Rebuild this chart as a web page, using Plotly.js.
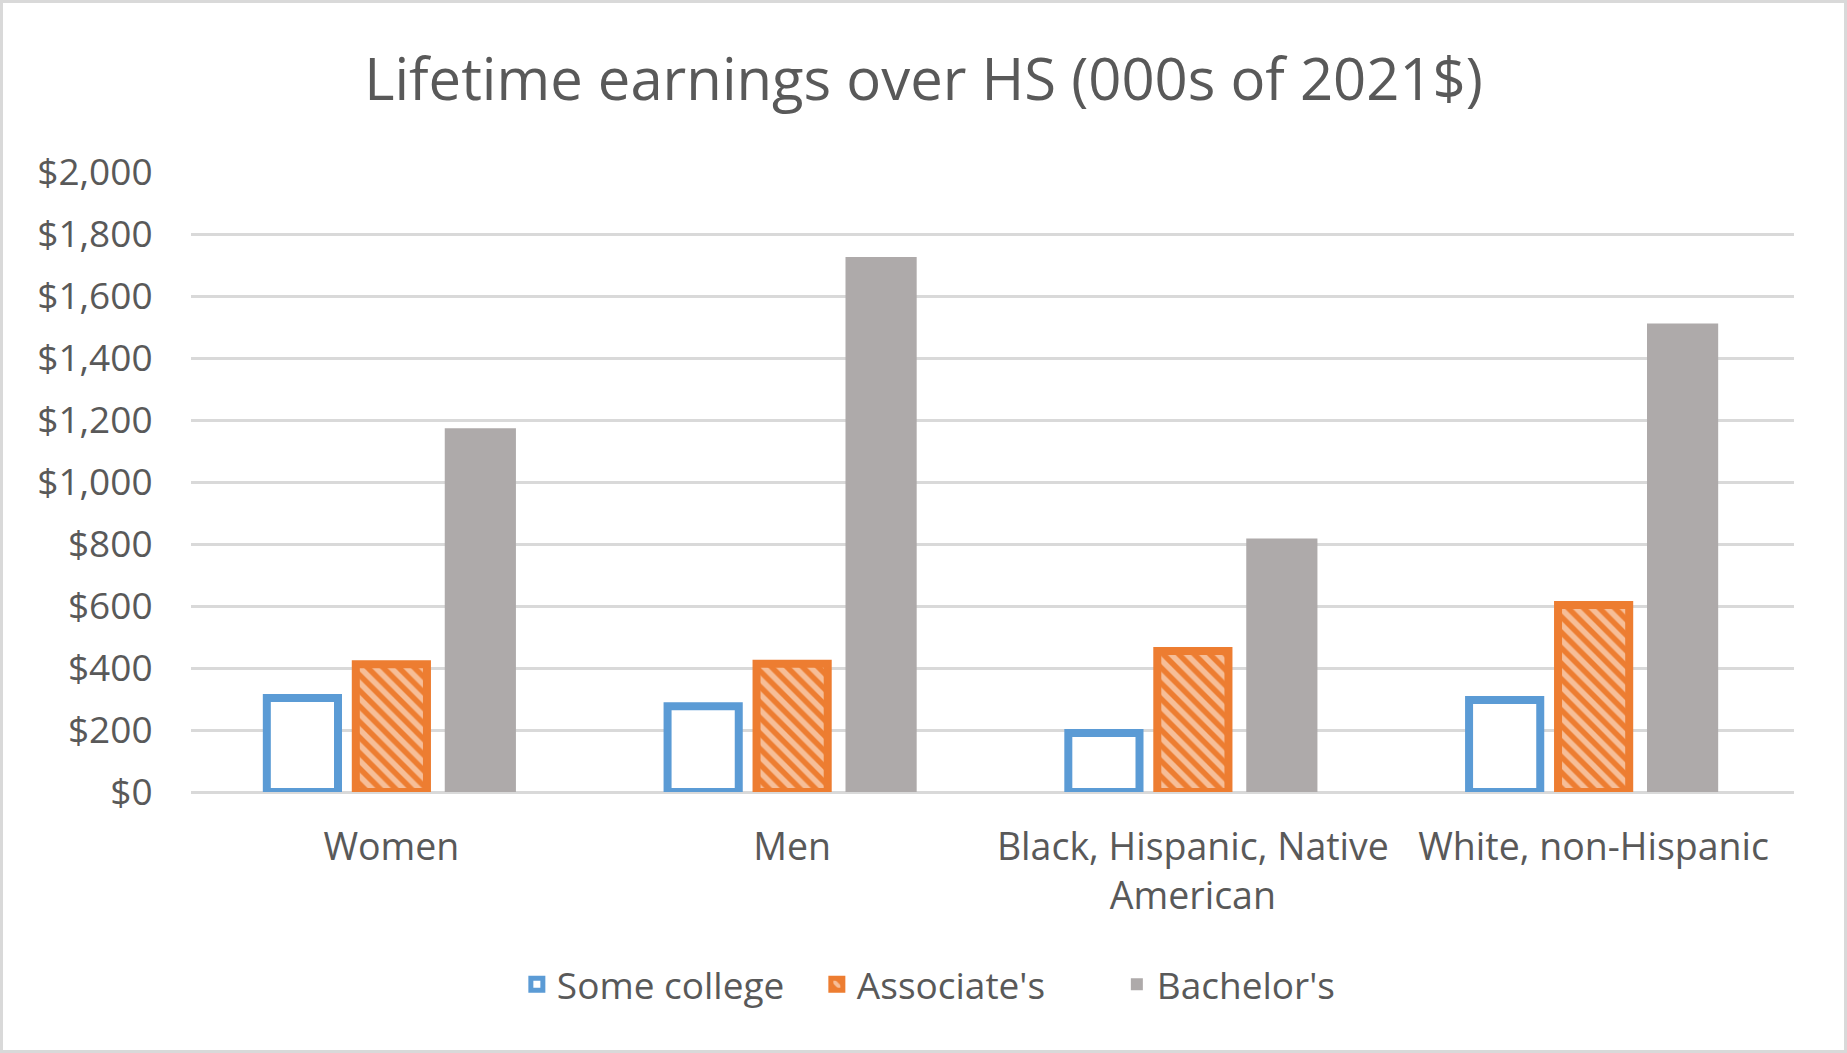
<!DOCTYPE html>
<html>
<head>
<meta charset="utf-8">
<script src="https://cdn.plot.ly/plotly-3.0.1.min.js"></script>
<style>
  html, body { margin: 0; padding: 0; background: #ffffff; }
  #chart { width: 1847px; height: 1053px; box-sizing: border-box; border: 3px solid #d9d9d9; }
</style>
</head>
<body>
<div id="chart"></div>
<script>
const categories = ['Women', 'Men', 'Black, Hispanic, Native<br>American', 'White, non-Hispanic'];
const seriesNames = ['Some college', "Associate's", "Bachelor's"];
const someCollege = [303, 277, 190, 297];
const associates = [412, 414, 455, 603];
const bachelors = [1173, 1726, 818, 1511];
const yTicks = [0, 200, 400, 600, 800, 1000, 1200, 1400, 1600, 1800, 2000];
const yTickText = yTicks.map(v => '$' + v.toLocaleString('en-US'));

const textColor = '#595959';
const fontFam = '"Open Sans", "Noto Sans", sans-serif';

const traces = [
  {
    type: 'bar', name: seriesNames[0], x: categories, y: someCollege,
    marker: { color: '#ffffff', line: { color: '#5B9BD5', width: 8 } },
    hoverinfo: 'skip'
  },
  {
    type: 'bar', name: seriesNames[1], x: categories, y: associates,
    marker: {
      color: '#ED7D31',
      line: { color: '#ED7D31', width: 8 },
      pattern: { shape: '\\', fillmode: 'overlay', bgcolor: '#ED7D31', fgcolor: '#ffffff', size: 11, solidity: 0.5 }
    },
    hoverinfo: 'skip'
  },
  {
    type: 'bar', name: seriesNames[2], x: categories, y: bachelors,
    marker: { color: '#AEAAAA', line: { color: '#AEAAAA', width: 0 } },
    hoverinfo: 'skip'
  }
];

const layout = {
  width: 1841, height: 1047,
  margin: { l: 188, r: 50, t: 169, b: 258, pad: 0 },
  paper_bgcolor: '#ffffff', plot_bgcolor: '#ffffff',
  font: { family: fontFam, color: textColor, size: 37 },
  title: {
    text: 'Lifetime earnings over HS (000s of 2021$)',
    font: { family: fontFam, size: 58, color: textColor },
    x: 0.5, xanchor: 'center', y: 1 - 77 / 1047, yanchor: 'middle', yref: 'container'
  },
  barmode: 'group',
  bargap: 0.334,
  bargroupgap: 0.2,
  xaxis: {
    type: 'category',
    showgrid: false,
    showline: false,
    ticks: 'outside', ticklen: 22, tickcolor: 'rgba(0,0,0,0)',
    tickfont: { family: fontFam, size: 37.5, color: textColor },
    fixedrange: true
  },
  yaxis: {
    range: [0, 2000],
    tickmode: 'array',
    tickvals: yTicks,
    ticktext: yTickText,
    showgrid: true, gridcolor: '#D9D9D9', gridwidth: 3,
    zeroline: true, zerolinecolor: '#D9D9D9', zerolinewidth: 3,
    showline: false,
    ticks: 'outside', ticklen: 30, tickcolor: 'rgba(0,0,0,0)',
    tickfont: { family: fontFam, size: 37, color: textColor },
    fixedrange: true
  },
  legend: {
    orientation: 'h',
    x: 0.484, xanchor: 'center',
    y: -0.311, yanchor: 'middle',
    font: { family: fontFam, size: 37, color: textColor },
    itemwidth: 30,
    entrywidth: 255,
    traceorder: 'normal'
  },
  showlegend: true
};

Plotly.newPlot('chart', traces, layout, { displayModeBar: false, staticPlot: true });
</script>
</body>
</html>
